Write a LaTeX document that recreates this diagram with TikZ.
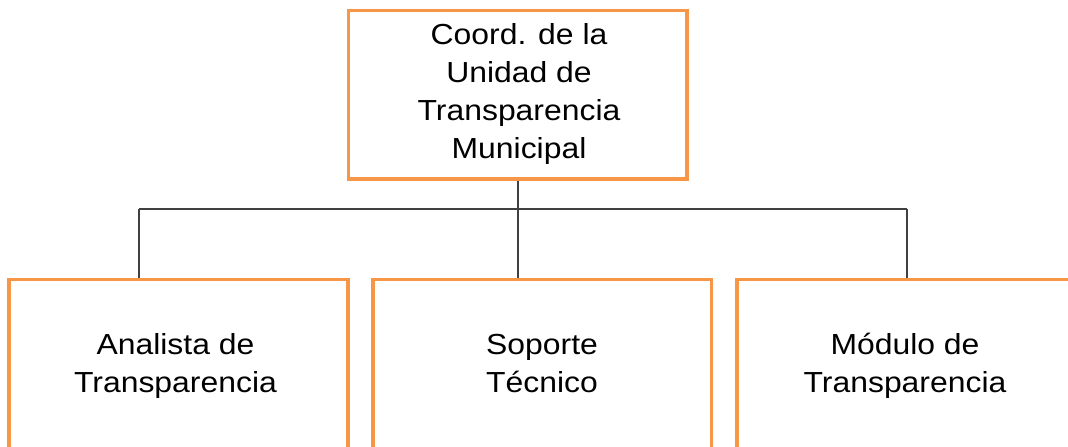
\documentclass[tikz,border=0pt]{standalone}
\usepackage{fontspec}
\setmainfont[FakeStretch=1.1]{Liberation Sans}
\definecolor{boxorange}{HTML}{F79646}
\definecolor{linegray}{HTML}{404040}
\begin{document}
\begin{tikzpicture}[x=1pt,y=-1pt,
  orgbox/.style={draw=boxorange,line width=3.5pt,fill=white,inner sep=0pt},
  orgtext/.style={inner sep=0pt,align=center,anchor=base,
    font=\fontsize{29}{38}\selectfont},
  link/.style={draw=linegray,line width=1.3pt}]
\useasboundingbox (0,0) rectangle (1068,447);
\clip (0,0) rectangle (1068,447);
% boxes
\node[orgbox,minimum width=338.5pt,minimum height=168.5pt] (top) at (517.5,94.5) {};
\node[orgbox,minimum width=339pt,minimum height=240pt] (left) at (178.5,399.3) {};
\node[orgbox,minimum width=338.5pt,minimum height=240pt] (mid) at (542.25,399.3) {};
\node[orgbox,minimum width=339pt,minimum height=240pt] (right) at (906.5,399.3) {};
% connectors
\coordinate (j) at (518,209);
\coordinate (jl) at (139,209);
\coordinate (jr) at (907,209);
\draw[link] (top.south -| j) -- (j);
\draw[link] (jl) -- (jr);
\draw[link] (jl) -- (jl |- left.north);
\draw[link] (j) -- (j |- mid.north);
\draw[link] (jr) -- (jr |- right.north);
% texts (base anchor = baseline of last line)
\node[orgtext] (ttop) at (519,158.5) {Coord. de la\\Unidad de\\Transparencia\\Municipal};
\node[orgtext] (tleft) at (175.5,392.5) {Analista de\\Transparencia};
\node[orgtext] (tmid) at (542,392.5) {Soporte\\Técnico};
\node[orgtext] (tright) at (905,392.5) {Módulo de\\Transparencia};
\end{tikzpicture}
\end{document}
